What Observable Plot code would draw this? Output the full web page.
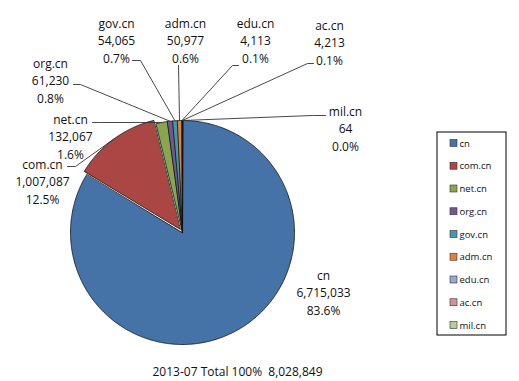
<!DOCTYPE html>
<html><head><meta charset="utf-8">
<script src="https://cdn.jsdelivr.net/npm/d3@7"></script>
<script src="https://cdn.jsdelivr.net/npm/@observablehq/plot@0.6"></script>
<style>body{margin:0;background:#fff;} svg{display:block;}</style>
</head><body><div id="chart"></div>
<script>
// ---- data ----
const domains = ["cn","com.cn","net.cn","org.cn","gov.cn","adm.cn","edu.cn","ac.cn","mil.cn"];
const counts = [6715033,1007087,132067,61230,54065,50977,4113,4213,64];
const colors = ["#4572A7","#AA4643","#89A54E","#71588F","#4198AF","#DB843D","#93A9CF","#D19392","#B9CD96"];
const period = "2013-07";
const totalLabel = "Total 100%";

// ---- layout ----
const W = 519, H = 381, cx = 182, cy = 232, R = 112;
const FONT = "'Open Sans', Lato, sans-serif";
const explode = {"com.cn": 4};
const labelPos = {
  "cn": [323, 291], "com.cn": [42, 180], "net.cn": [70, 135], "org.cn": [50, 79],
  "gov.cn": [116, 39], "adm.cn": [185, 39], "edu.cn": [255, 39], "ac.cn": [329, 41], "mil.cn": [345, 127]
};
const leaderEnds = {
  "com.cn": [[75,166],[67,166]], "net.cn": [[100,122],[92,122]], "org.cn": [[80,84],[73,84]],
  "gov.cn": [[140,60],[132,60]], "adm.cn": [[178,65]], "edu.cn": [[232,65],[238,65]],
  "ac.cn": [[307,63],[313,63]], "mil.cn": [[312,115],[325,115]]
};
const legendBox = {x1: 437, x2: 506, y1: 132, y2: 335};
const legendRow0 = 143, legendStep = 22.75, swX = 450, swS = 7;

const total = d3.sum(counts);
const rows = domains.map((name, i) => ({name, value: counts[i], color: colors[i]}));
const arcs = d3.pie().sort(null).value(d => d.value).startAngle(0).endAngle(2 * Math.PI)(rows);

const fmt = d3.format(",");
const pct = v => (v / total * 100).toFixed(1) + "%";

// slice polygons
const slicePts = [];
const edgePoint = {};
for (const a of arcs) {
  const name = a.data.name;
  const mid = (a.startAngle + a.endAngle) / 2;
  const off = explode[name] || 0;
  const ox = cx + off * Math.sin(mid), oy = cy - off * Math.cos(mid);
  slicePts.push({name, x: ox, y: oy});
  const n = Math.max(2, Math.ceil((a.endAngle - a.startAngle) / 0.01));
  for (let k = 0; k <= n; k++) {
    const t = a.startAngle + (a.endAngle - a.startAngle) * k / n;
    slicePts.push({name, x: ox + R * Math.sin(t), y: oy - R * Math.cos(t)});
  }
  edgePoint[name] = [ox + R * Math.sin(mid), oy - R * Math.cos(mid)];
}

// leader lines
const leaderPts = [];
for (const name of Object.keys(leaderEnds)) {
  const [ex, ey] = edgePoint[name];
  leaderPts.push({name, x: ex, y: ey});
  for (const [x, y] of leaderEnds[name]) leaderPts.push({name, x, y});
}

const labels = rows.map(d => ({
  name: d.name, x: labelPos[d.name][0], y: labelPos[d.name][1],
  text: `${d.name}\n${fmt(d.value)}\n${pct(d.value)}`
}));

const legendRows = rows.map((d, i) => ({name: d.name, y: legendRow0 + i * legendStep}));
const caption = [{text: `${period} ${totalLabel} \u00a0${fmt(total)}`, x: 237, y: 372}];

const chart = Plot.plot({
  width: W, height: H, margin: 0,
  x: {domain: [0, W], range: [0, W], axis: null},
  y: {domain: [0, H], range: [0, H], axis: null},
  color: {domain: domains, range: colors},
  style: {fontFamily: FONT, background: "#fff"},
  marks: [
    Plot.line(slicePts, {x: "x", y: "y", z: "name", fill: "name", stroke: "#111", strokeWidth: 0.8, curve: "linear-closed"}),
    Plot.line(leaderPts, {x: "x", y: "y", z: "name", stroke: "#333", strokeWidth: 0.9}),
    Plot.text(labels, {x: "x", y: "y", text: "text", fontSize: 12, lineHeight: 1.47, fill: "#111", fontFamily: FONT}),
    Plot.rect([legendBox], {x1: "x1", x2: "x2", y1: "y1", y2: "y2", fill: "none", stroke: "#000", strokeWidth: 1}),
    Plot.rect(legendRows, {x1: swX, x2: swX + swS, y1: d => d.y - swS / 2, y2: d => d.y + swS / 2, fill: "name", stroke: "#333", strokeWidth: 0.6}),
    Plot.text(legendRows, {x: swX + swS + 2, y: "y", text: "name", textAnchor: "start", fontSize: 9.5, fill: "#111", fontFamily: FONT}),
    Plot.text(caption, {x: "x", y: "y", text: "text", fontSize: 12, fill: "#111", fontFamily: FONT})
  ]
});
document.getElementById("chart").appendChild(chart);
</script>
</body></html>
